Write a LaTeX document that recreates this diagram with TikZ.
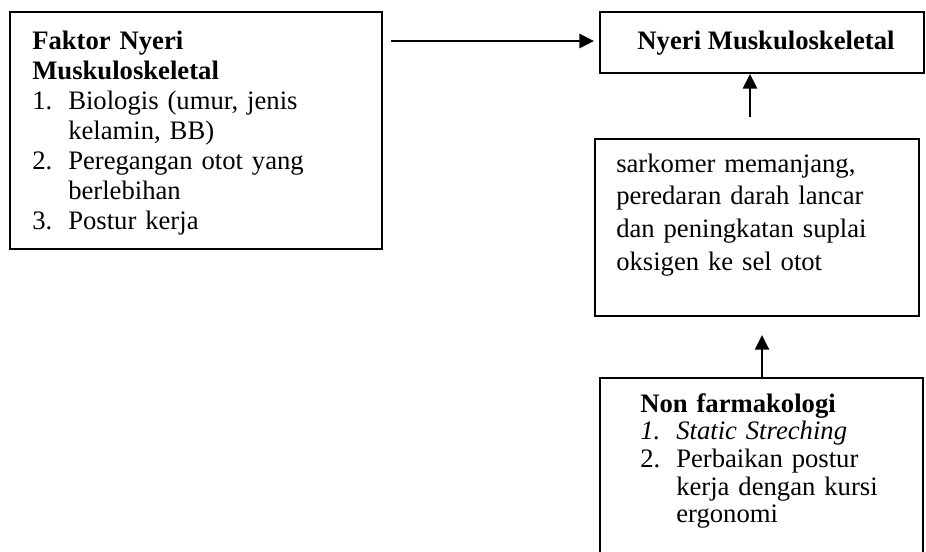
\documentclass[tikz,border=0pt]{standalone}
\usepackage{fontspec}
\setmainfont{Liberation Serif}
\usetikzlibrary{arrows.meta,fit}
\begin{document}
\begin{tikzpicture}[x=0.75pt,y=-0.75pt,
  box/.style={draw, line width=1.4pt, inner sep=0pt},
  txt/.style={inner sep=0pt, anchor=base west, align=left, text width=#1},
  arr/.style={line width=1.8pt, -{Triangle[length=11pt,width=10.5pt]}},
  every node/.style={font=\fontsize{20}{22.5}\selectfont}]
\useasboundingbox (0,0) rectangle (926,551);
\clip (0,0) rectangle (926,551);

% boxes
\node[box, fit={(10,12) (382,249)}] (b1) {};
\node[box, fit={(600,12) (924,73)}] (b2) {};
\node[box, fit={(595,139) (919,316)}] (b3) {};
\node[box, fit={(600,378) (923,600)}] (b4) {};

% texts
\node[txt=300pt, font=\fontsize{20}{22.5}\selectfont] (t1) at (32,49)
  {\textbf{Faktor Nyeri}\\
   \textbf{Muskuloskeletal}\\
   \makebox[27pt][l]{1.}Biologis (umur, jenis\\
   \hspace*{27pt}kelamin, BB)\\
   \makebox[27pt][l]{2.}Peregangan otot yang\\
   \hspace*{27pt}berlebihan\\
   \makebox[27pt][l]{3.}Postur kerja};

\node[inner sep=0pt, anchor=base, font=\fontsize{20}{22.5}\selectfont\bfseries] (t2) at (766,49)
  {Nyeri Muskuloskeletal};

\node[txt=260pt, font=\fontsize{20}{24.5}\selectfont] (t3) at (616,172)
  {sarkomer memanjang,\\
   peredaran darah lancar\\
   dan peningkatan suplai\\
   oksigen ke sel otot};

\node[txt=260pt, font=\fontsize{20}{20.8}\selectfont] (t4) at (640,412)
  {\textbf{Non farmakologi}\\
   \makebox[27pt][l]{\textit{1.}}\textit{Static Streching}\\
   \makebox[27pt][l]{2.}Perbaikan postur\\
   \hspace*{27pt}kerja dengan kursi\\
   \hspace*{27pt}ergonomi};

% connectors
\coordinate (h1) at (391,41);
\draw[arr, shorten >=3.75pt] (h1) -- (h1 -| b2.west);
\coordinate (u1) at (750,117);
\draw[arr] (u1) -- (u1 |- b2.south);
\coordinate (u2) at (762,335);
\draw[arr] (b4.north -| u2) -- (u2);
\end{tikzpicture}
\end{document}
